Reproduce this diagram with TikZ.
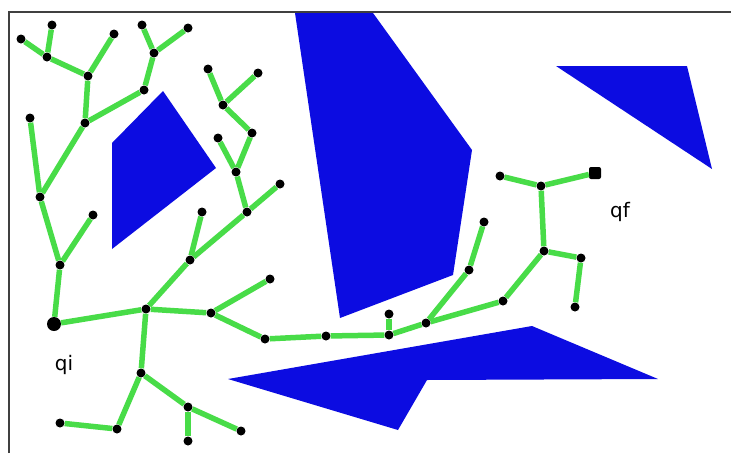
\documentclass[tikz,border=0pt]{standalone}
\usepackage{fontspec}
\setmainfont{DejaVu Sans}
\usetikzlibrary{positioning}

\definecolor{obstblue}{RGB}{12,12,225}
\definecolor{treegreen}{RGB}{72,220,72}

\begin{document}
\begin{tikzpicture}[
  x=1pt, y=-1pt,
  vtx/.style={circle, fill=black, inner sep=0pt, minimum size=9pt},
  root/.style={circle, fill=black, inner sep=0pt, minimum size=14pt},
  goal/.style={rectangle, rounded corners=2pt, fill=black, inner sep=0pt, minimum size=12pt},
  edge/.style={draw=treegreen, line width=5.5pt},
  obst/.style={fill=obstblue},
  lbl/.style={font=\fontsize{20}{24}\selectfont}
]
\useasboundingbox (0,0) rectangle (731,453);
\fill[white] (0,0) rectangle (731,453);
\draw[line width=2pt, black!75] (9,453) -- (9,12) -- (731,12);

% obstacles
\fill[obst] (112,143) -- (163,91) -- (216,168) -- (112,249) -- cycle;
\fill[obst] (295,13) -- (373,13) -- (472,150) -- (453,275) -- (340,318) -- cycle;
\fill[obst] (556,66) -- (687,66) -- (712,169) -- cycle;
\fill[obst] (228,379) -- (532,326) -- (658,379) -- (427,380) -- (398,430) -- cycle;

% tree vertices
\node[root] (qi) at (54,324) {};
\node[goal] (qf) at (595,173) {};
\node[lbl] (qilbl) at (64,365) {qi};
\node[lbl] (qflbl) at (620,212) {qf};

\node[vtx] (a1) at (52,25) {};
\node[vtx] (a2) at (21,39) {};
\node[vtx] (a3) at (47,57) {};
\node[vtx] (a4) at (114,34) {};
\node[vtx] (a5) at (88,76) {};
\node[vtx] (a6) at (142,25) {};
\node[vtx] (a7) at (188,28) {};
\node[vtx] (a8) at (154,53) {};
\node[vtx] (a9) at (144,90) {};
\node[vtx] (a10) at (85,123) {};
\node[vtx] (a11) at (30,118) {};
\node[vtx] (a12) at (40,197) {};
\node[vtx] (a13) at (208,69) {};
\node[vtx] (a14) at (258,73) {};
\node[vtx] (a15) at (223,105) {};
\node[vtx] (a16) at (252,133) {};
\node[vtx] (a17) at (218,138) {};
\node[vtx] (a18) at (236,172) {};
\node[vtx] (a19) at (280,184) {};
\node[vtx] (a20) at (247,212) {};
\node[vtx] (a21) at (202,212) {};
\node[vtx] (a22) at (93,215) {};

\node[vtx] (b2) at (60,265) {};
\node[vtx] (b3) at (146,309) {};
\node[vtx] (b4) at (190,260) {};
\node[vtx] (b7) at (211,313) {};
\node[vtx] (b8) at (270,279) {};
\node[vtx] (b9) at (265,339) {};
\node[vtx] (b10) at (141,373) {};
\node[vtx] (b11) at (188,407) {};
\node[vtx] (b12) at (241,431) {};
\node[vtx] (b13) at (188,441) {};
\node[vtx] (b14) at (117,429) {};
\node[vtx] (b15) at (60,423) {};

\node[vtx] (c1) at (326,336) {};
\node[vtx] (c2) at (389,335) {};
\node[vtx] (c3) at (389,314) {};
\node[vtx] (c4) at (426,323) {};
\node[vtx] (c5) at (469,270) {};
\node[vtx] (c6) at (484,222) {};
\node[vtx] (c7) at (503,301) {};
\node[vtx] (c8) at (544,251) {};
\node[vtx] (c9) at (581,258) {};
\node[vtx] (c10) at (575,307) {};
\node[vtx] (d1) at (500,176) {};
\node[vtx] (d2) at (541,186) {};

% tree edges
\foreach \u/\v in {a1/a3, a2/a3, a3/a5, a4/a5, a5/a10, a6/a8, a7/a8, a8/a9,
  a9/a10, a10/a12, a11/a12, a13/a15, a14/a15, a15/a16, a16/a18, a17/a18,
  a18/a20, a19/a20, a12/b2, a22/b2, b2/qi, qi/b3, b3/b4, b4/a21, b4/a20,
  b3/b7, b7/b8, b7/b9, b3/b10, b10/b14, b14/b15, b10/b11, b11/b12, b11/b13,
  b9/c1, c1/c2, c2/c3, c2/c4, c4/c5, c5/c6, c4/c7, c7/c8, c8/c9, c9/c10,
  c8/d2, d1/d2, d2/qf}
  \draw[edge] (\u) -- (\v);
\end{tikzpicture}
\end{document}
